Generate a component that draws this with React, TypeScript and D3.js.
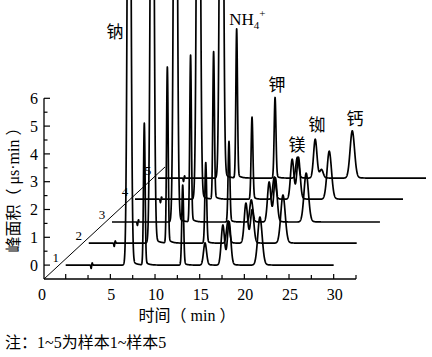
import React from 'react';
import * as d3 from 'd3';

const WIDTH = 432;
const HEIGHT = 357;

// Samples 1..5 and the pseudo-3D shift of each trace (time shift in min, signal shift)
const sampleLabels = ['1', '2', '3', '4', '5'];
const sampleShiftX = [0, 2.58, 5.18, 7.76, 10.34];
const sampleShiftY = [0, 0.79, 1.55, 2.37, 3.13];

// Peak table (retention time, width, tailing)
const peakIds = ['钠', 'NH4+', '钾', '镁', '铷', 'x', '钙'];
const peakTimes = [7.1, 8.8, 13.1, 15.6, 17.6, 18.3, 21.75];
const peakSigma = [0.17, 0.09, 0.1, 0.17, 0.19, 0.19, 0.25];
const peakTailFrac = [0.012, 0.03, 0.04, 0.08, 0.08, 0.08, 0.08];
const peakTailTau = [0.45, 0.35, 0.3, 0.3, 0.3, 0.3, 0.35];

// Peak heights per sample (μs·min)
const heightsS1 = [25, 5.1, 2.88, 0.8, 1.44, 1.55, 1.73];
const heightsS2 = [25, 6.33, 2.9, 0.8, 1.44, 1.2, 1.73];
const heightsS3 = [25, 6.0, 2.9, 0.8, 1.44, 1.58, 1.76];
const heightsS4 = [25, 5.3, 2.95, 0.8, 1.44, 1.5, 1.73];
const heightsS5 = [25, 5.36, 2.9, 0.75, 1.4, 0.3, 1.7];
const sampleHeights = [heightsS1, heightsS2, heightsS3, heightsS4, heightsS5];

// small baseline disturbance
const blipTimes = [2.85, 2.97];
const blipValues = [-0.12, 0.08];

const runStart = 0;
const runEnd = 30;

// axes
const xDomain = [-2.43, 32.5];
const yDomain = [-0.5, 6];
const xTickValues = [0, 2.5, 5, 7.5, 10, 12.5, 15, 17.5, 20, 22.5, 25, 27.5, 30, 32.5];
const xTickLabels = ['5', '10', '15', '20', '25', '30'];
const yTickValues = [0, 0.5, 1, 1.5, 2, 2.5, 3, 3.5, 4, 4.5, 5, 5.5, 6];
const yTickLabels = ['0', '1', '2', '3', '4', '5', '6'];
const diagonalEnd = [11.12, 3.53];

// peak annotations (data coordinates)
const annoText = ['钠', '钾', '镁', '铷', '钙'];
const annoT = [5.52, 23.66, 25.9, 28.14, 32.4];
const annoV = [8.38, 6.47, 4.32, 5.04, 5.25];
const nh4Pos = [18.3, 8.63];

const SERIF = "'Liberation Serif', 'Times New Roman', 'Noto Sans CJK SC', serif";
const CJK = "'Noto Sans CJK SC', 'Liberation Serif', serif";

function signal(t: number, heights: number[]): number {
  let v = 0;
  for (let i = 0; i < peakTimes.length; i++) {
    const d = t - peakTimes[i];
    const s = peakSigma[i];
    const g = Math.exp(-(d * d) / (2 * s * s));
    const h = heights[i];
    if (d <= 0) v += h * g;
    else {
      const a = peakTailFrac[i];
      v += h * ((1 - a) * g + a * Math.exp(-d / peakTailTau[i]));
    }
  }
  for (let j = 0; j < blipTimes.length; j++) {
    const d = t - blipTimes[j];
    v += blipValues[j] * Math.exp(-(d * d) / (2 * 0.04 * 0.04));
  }
  return v;
}

export default function App() {
  const xs = d3.scaleLinear().domain(xDomain).range([44, 356]);
  const ys = d3.scaleLinear().domain(yDomain).range([279, 98.3]);

  const times = d3.range(runStart, runEnd + 0.0001, 0.01);

  const traces = sampleHeights.map((hs, i) => {
    const pts: [number, number][] = times.map((t) => [
      xs(t + sampleShiftX[i]),
      ys(signal(t, hs) + sampleShiftY[i]),
    ]);
    return d3.line()(pts) || '';
  });

  const x0 = xs(xDomain[0]);
  const y0 = ys(yDomain[0]);

  return (
    <svg
      width={WIDTH}
      height={HEIGHT}
      style={{ position: 'absolute', left: 0, top: 0, background: '#fff' }}
    >
      <rect x={0} y={0} width={WIDTH} height={HEIGHT} fill="#fff" />
      {/* traces */}
      {traces.map((d, i) => (
        <path key={i} d={d} fill="none" stroke="#000" strokeWidth={1.7} strokeLinejoin="round" />
      ))}
      {/* diagonal */}
      <line
        x1={x0}
        y1={y0}
        x2={xs(diagonalEnd[0])}
        y2={ys(diagonalEnd[1])}
        stroke="#000"
        strokeWidth={1}
      />
      {/* sample labels */}
      {sampleLabels.map((s, i) => (
        <text
          key={s}
          x={xs(sampleShiftX[i]) - 10}
          y={ys(sampleShiftY[i]) - 3}
          fontFamily={SERIF}
          fontSize={13}
          textAnchor="middle"
        >
          {s}
        </text>
      ))}
      {/* axes */}
      <line x1={x0} y1={y0} x2={xs(xDomain[1])} y2={y0} stroke="#000" strokeWidth={1.3} />
      <line x1={x0} y1={y0} x2={x0} y2={ys(yDomain[1])} stroke="#000" strokeWidth={1.3} />
      {xTickValues.map((v) => (
        <line
          key={'xt' + v}
          x1={xs(v)}
          x2={xs(v)}
          y1={y0}
          y2={y0 - (v % 5 === 0 ? 5 : 4)}
          stroke="#000"
          strokeWidth={1.2}
        />
      ))}
      {yTickValues.map((v) => (
        <line
          key={'yt' + v}
          x1={x0}
          x2={x0 + (v % 1 === 0 ? 6 : 3.5)}
          y1={ys(v)}
          y2={ys(v)}
          stroke="#000"
          strokeWidth={1.2}
        />
      ))}
      <text x={x0 - 2} y={300} fontFamily={SERIF} fontSize={16} textAnchor="middle">
        0
      </text>
      {xTickLabels.map((l) => (
        <text key={'xl' + l} x={xs(+l) + 1} y={300} fontFamily={SERIF} fontSize={16} textAnchor="middle">
          {l}
        </text>
      ))}
      {yTickLabels.map((l) => (
        <text
          key={'yl' + l}
          x={38}
          y={ys(+l)}
          dy="0.35em"
          fontFamily={SERIF}
          fontSize={16}
          textAnchor="end"
        >
          {l}
        </text>
      ))}
      {/* axis titles */}
      <text x={187} y={321} fontFamily={CJK} fontSize={16} textAnchor="middle" xmlSpace="preserve">
        时间（<tspan fontFamily={SERIF}> min </tspan>）
      </text>
      <text
        transform="translate(19,186) rotate(-90)"
        fontFamily={CJK}
        fontSize={16}
        textAnchor="middle"
        xmlSpace="preserve"
      >
        峰面积（<tspan fontFamily={SERIF}> μs·min </tspan>）
      </text>
      {/* peak labels */}
      {annoText.map((s, i) => (
        <text
          key={s}
          x={xs(annoT[i])}
          y={ys(annoV[i])}
          dy="0.35em"
          fontFamily={CJK}
          fontSize={17}
          textAnchor="middle"
        >
          {s}
        </text>
      ))}
      <text x={xs(nh4Pos[0])} y={ys(nh4Pos[1])} fontFamily={SERIF} fontSize={17}>
        NH
        <tspan fontSize={11} dy={4}>4</tspan>
        <tspan fontSize={11} dy={-12}>+</tspan>
      </text>
      {/* note */}
      <text x={5} y={348} fontFamily={CJK} fontSize={16}>
        注：<tspan fontFamily={SERIF}>1~5</tspan>为样本<tspan fontFamily={SERIF}>1~</tspan>样本<tspan fontFamily={SERIF}>5</tspan>
      </text>
    </svg>
  );
}
